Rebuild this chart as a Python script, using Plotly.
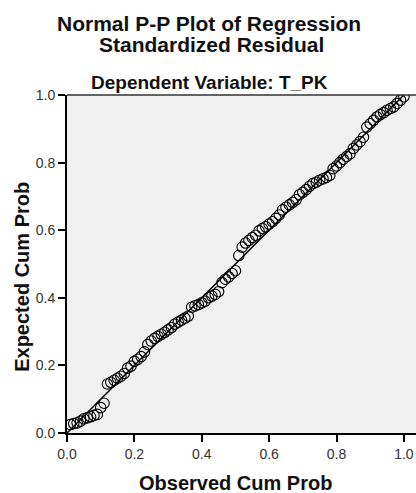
import plotly.graph_objects as go

# Observed cumulative probability (x) and expected cumulative probability (y)
observed_cum_prob = [
    0.01, 0.02, 0.03, 0.04, 0.05, 0.06, 0.07, 0.08, 0.09, 0.10,
    0.11, 0.12, 0.13, 0.14, 0.15, 0.16, 0.17, 0.18, 0.19, 0.20,
    0.21, 0.22, 0.23, 0.24, 0.25, 0.26, 0.27, 0.28, 0.29, 0.30,
    0.31, 0.32, 0.33, 0.34, 0.35, 0.36, 0.37, 0.38, 0.39, 0.40,
    0.41, 0.42, 0.43, 0.44, 0.45, 0.46, 0.47, 0.48, 0.49, 0.50,
    0.51, 0.52, 0.53, 0.54, 0.55, 0.56, 0.57, 0.58, 0.59, 0.60,
    0.61, 0.62, 0.63, 0.64, 0.65, 0.66, 0.67, 0.68, 0.69, 0.70,
    0.71, 0.72, 0.73, 0.74, 0.75, 0.76, 0.77, 0.78, 0.79, 0.80,
    0.81, 0.82, 0.83, 0.84, 0.85, 0.86, 0.87, 0.88, 0.89, 0.90,
    0.91, 0.92, 0.93, 0.94, 0.95, 0.96, 0.97, 0.98, 0.99, 1.00,
]
expected_cum_prob = [
    0.025, 0.028, 0.030, 0.035, 0.042, 0.045, 0.048, 0.052, 0.055, 0.075,
    0.088, 0.145, 0.150, 0.156, 0.162, 0.168, 0.176, 0.192, 0.198, 0.212,
    0.218, 0.226, 0.240, 0.262, 0.272, 0.280, 0.286, 0.292, 0.298, 0.305,
    0.312, 0.322, 0.328, 0.334, 0.340, 0.346, 0.372, 0.376, 0.380, 0.385,
    0.390, 0.400, 0.405, 0.410, 0.418, 0.445, 0.455, 0.462, 0.472, 0.480,
    0.525, 0.550, 0.562, 0.570, 0.578, 0.585, 0.598, 0.605, 0.610, 0.618,
    0.625, 0.635, 0.645, 0.660, 0.668, 0.675, 0.682, 0.690, 0.705, 0.712,
    0.720, 0.730, 0.738, 0.742, 0.748, 0.752, 0.756, 0.762, 0.782, 0.790,
    0.800, 0.810, 0.818, 0.826, 0.842, 0.852, 0.862, 0.875, 0.905, 0.915,
    0.925, 0.935, 0.942, 0.948, 0.955, 0.960, 0.965, 0.975, 0.985, 0.995,
]
ref_line_x = [0.0, 1.0]
ref_line_y = [0.0, 1.0]
tick_vals = [0.0, 0.2, 0.4, 0.6, 0.8, 1.0]

title_lines = ["Normal P-P Plot of Regression", "Standardized Residual"]
subtitle = "Dependent Variable: T_PK"
x_title = "Observed Cum Prob"
y_title = "Expected Cum Prob"

FONT = "Liberation Sans, Arial, sans-serif"
DARK = "#111111"

fig = go.Figure()
fig.add_trace(go.Scatter(
    x=ref_line_x, y=ref_line_y, mode="lines",
    line=dict(color="black", width=1.5), hoverinfo="skip", showlegend=False,
))
fig.add_trace(go.Scatter(
    x=observed_cum_prob, y=expected_cum_prob, mode="markers",
    marker=dict(symbol="circle-open", size=10.5, color="black", line=dict(width=1.1, color="black")),
    showlegend=False,
))


def label(text, x, y, size, yshift=0, xref="paper", angle=0):
    return dict(
        text="<b>%s</b>" % text, xref=xref, yref="paper", x=x, y=y,
        xanchor="center", yanchor="middle", yshift=yshift, textangle=angle,
        showarrow=False, font=dict(size=size, color=DARK, family=FONT),
    )


fig.update_layout(
    width=416, height=493,
    margin=dict(l=67, r=0, t=95, b=60),
    paper_bgcolor="white",
    plot_bgcolor="#f0f0f0",
    font=dict(family=FONT, color="#222222"),
    xaxis=dict(
        range=[0, 1.036], tickvals=tick_vals, tickformat=".1f",
        ticks="outside", ticklen=7, tickwidth=2, tickcolor="black",
        showline=True, linecolor="black", linewidth=2,
        showgrid=False, zeroline=False,
        tickfont=dict(size=14, color="#333333"),
    ),
    yaxis=dict(
        range=[0, 1.0], tickvals=tick_vals, tickformat=".1f",
        ticks="outside", ticklen=7, tickwidth=2, tickcolor="black",
        showline=True, linecolor="black", linewidth=2,
        showgrid=False, zeroline=False,
        tickfont=dict(size=14, color="#333333"),
    ),
    annotations=[
        label(title_lines[0], 0.407, 1.0, 21, yshift=72),
        label(title_lines[1], 0.413, 1.0, 21, yshift=51),
        label(subtitle, 0.407, 1.0, 19, yshift=13),
        label(x_title, 0.5, 0.0, 20, yshift=-50, xref="x"),
        label(y_title, -0.129, 0.462, 20, angle=-90),
    ],
    shapes=[dict(
        type="line", xref="paper", yref="paper", x0=0, x1=1, y0=1, y1=1,
        line=dict(color="#333333", width=1.5),
    )],
)

fig.write_html("out.html", config={"displayModeBar": False},
               post_script="document.body.style.margin='0px';")
